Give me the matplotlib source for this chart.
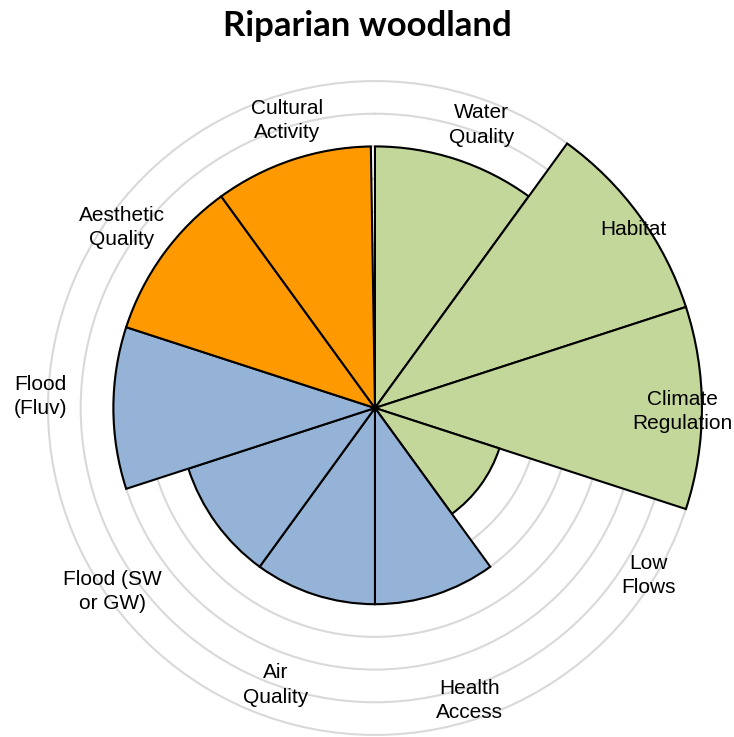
import numpy as np
import matplotlib.pyplot as plt

# categorias en sentido horario desde arriba
categorias = ['Water\nQuality', 'Habitat', 'Climate\nRegulation', 'Low\nFlows',
              'Health\nAccess', 'Air\nQuality', 'Flood (SW\nor GW)', 'Flood\n(Fluv)',
              'Aesthetic\nQuality', 'Cultural\nActivity']
valores = [8, 10, 10, 4, 6, 6, 6, 8, 8, 8]
colores = ['#C4D79B'] * 4 + ['#95B3D7'] * 4 + ['#FF9900'] * 2

# posicion de las etiquetas (grados desde arriba, radio)
ang_etiq = [20.7, 55.3, 90.7, 121.5, 162, 199.7, 235, 272, 305.5, 343]
rad_etiq = [9.25, 9.6, 9.4, 9.8, 9.4, 9.0, 9.8, 10.25, 9.5, 9.2]

fig = plt.figure(figsize=(7.34, 7.37), dpi=100)
ax = fig.add_axes([0.0565, -0.0061, 0.9087, 0.905], projection='polar')
ax.set_theta_zero_location('N')
ax.set_theta_direction(-1)

n = len(categorias)
ancho = 2 * np.pi / n
theta = np.arange(n) * ancho
anchos = [ancho] * (n - 1) + [ancho - np.radians(0.9)]
ax.bar(theta, valores, width=anchos, align='edge', color=colores,
       edgecolor='black', linewidth=1.5, zorder=3)

ax.set_ylim(0, 10.2)
ax.set_rgrids(range(1, 11), labels=[])
ax.set_thetagrids([])
ax.grid(True, color='#D9D9D9', linewidth=1.5)
ax.xaxis.grid(False)
ax.spines['polar'].set_visible(False)
ax.set_axisbelow(True)

for lab, a, r in zip(categorias, ang_etiq, rad_etiq):
    ax.text(np.radians(a), r, lab, ha='center', va='center', fontsize=15,
            family='Liberation Sans', linespacing=1.35, zorder=5)

fig.text(0.5, 0.965, 'Riparian woodland', ha='center', va='center',
         fontsize=25, fontweight='bold', family='Lato')

fig.savefig('out.png', dpi=100)
